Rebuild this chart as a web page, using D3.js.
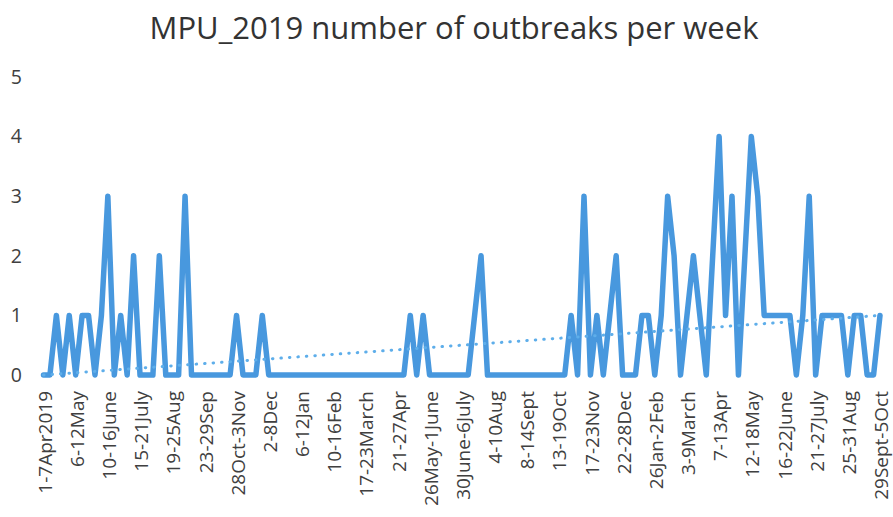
<!DOCTYPE html>
<html>
<head>
<meta charset="utf-8">
<script src="https://cdn.jsdelivr.net/npm/d3@7"></script>
<style>
  html, body { margin: 0; padding: 0; background: #ffffff; }
  svg { display: block; }
  text { font-family: "Open Sans", "Liberation Sans", sans-serif; }
</style>
</head>
<body>
<svg id="chart" width="893" height="517"></svg>
<script>
// Weekly outbreak counts, week 0 = 1-7 Apr 2019
const outbreaks = [
  0,0,1,0,1,0,1,1,0,1,
  3,0,1,0,2,0,0,0,2,0,
  0,0,3,0,0,0,0,0,0,0,
  1,0,0,0,1,0,0,0,0,0,
  0,0,0,0,0,0,0,0,0,0,
  0,0,0,0,0,0,0,1,0,1,
  0,0,0,0,0,0,0,1,2,0,
  0,0,0,0,0,0,0,0,0,0,
  0,0,1,0,3,0,1,0,1,2,
  0,0,0,1,1,0,1,3,2,0,
  1,2,1,0,2,4,1,3,0,2,
  4,3,1,1,1,1,1,0,1,3,
  0,1,1,1,1,0,1,1,0,0,
  1
];

// Axis labels, one every fifth week
const weekTicks = [
  "1-7Apr2019","6-12May","10-16June","15-21July","19-25Aug","23-29Sep",
  "28Oct-3Nov","2-8Dec","6-12Jan","10-16Feb","17-23March","21-27Apr",
  "26May-1June","30June-6July","4-10Aug","8-14Sept","13-19Oct","17-23Nov",
  "22-28Dec","26Jan-2Feb","3-9March","7-13Apr","12-18May","16-22June",
  "21-27July","25-31Aug","29Sept-5Oct"
];
const tickStep = 5;
const yTicks = [0, 1, 2, 3, 4, 5];

// Linear trend of the series, value at first and last week
const trendEnds = [0.0, 1.0];

const svg = d3.select("#chart");

const x = d3.scaleLinear()
  .domain([0, outbreaks.length - 1])
  .range([43.5, 880]);

const y = d3.scaleLinear()
  .domain([0, 5])
  .range([375, 77]);

// Title
svg.append("text")
  .attr("x", 454)
  .attr("y", 39)
  .attr("text-anchor", "middle")
  .attr("fill", "#333333")
  .style("font-size", "31px")
  .text("MPU_2019 number of outbreaks per week");

// Value axis (labels only)
const yAxis = d3.axisLeft(y)
  .tickValues(yTicks)
  .tickFormat(d3.format("d"))
  .tickSize(0)
  .tickPadding(0);

const gy = svg.append("g")
  .attr("transform", "translate(22,0)")
  .call(yAxis);
gy.select(".domain").remove();
gy.selectAll("text")
  .attr("fill", "#404040")
  .style("font-size", "19.5px")
  .style("font-family", "'Open Sans', sans-serif");

// Week axis (rotated labels only)
const xAxis = d3.axisBottom(x)
  .tickValues(d3.range(0, outbreaks.length, tickStep))
  .tickFormat(d => weekTicks[d / tickStep])
  .tickSize(0)
  .tickPadding(0);

const gx = svg.append("g")
  .attr("transform", "translate(0,391)")
  .call(xAxis);
gx.select(".domain").remove();
gx.selectAll("text")
  .attr("fill", "#404040")
  .style("font-size", "19px")
  .style("font-family", "'Open Sans', sans-serif")
  .attr("text-anchor", "end")
  .attr("transform", "rotate(-90)")
  .attr("x", 0)
  .attr("y", 1)
  .attr("dy", "0.35em");

// Weekly counts
const line = d3.line()
  .x((d, i) => x(i))
  .y(d => y(d));

svg.append("path")
  .datum(outbreaks)
  .attr("fill", "none")
  .attr("stroke", "#4898de")
  .attr("stroke-width", 5.5)
  .attr("stroke-linejoin", "round")
  .attr("stroke-linecap", "round")
  .attr("d", line);

// Dotted linear trend
svg.append("line")
  .attr("x1", x(0))
  .attr("y1", y(trendEnds[0]))
  .attr("x2", x(outbreaks.length - 1))
  .attr("y2", y(trendEnds[1]))
  .attr("stroke", "#5eaeea")
  .attr("stroke-width", 3)
  .attr("stroke-linecap", "round")
  .attr("stroke-dasharray", "0.5 8");
</script>
</body>
</html>
